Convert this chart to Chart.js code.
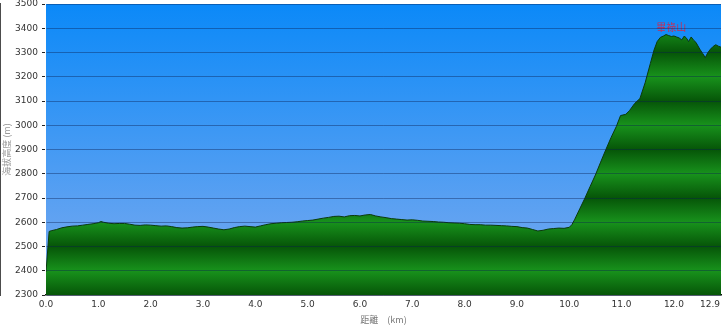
<!DOCTYPE html>
<html>
<head>
<meta charset="utf-8">
<script src="https://cdn.jsdelivr.net/npm/chart.js@4"></script>
<style>
html,body{margin:0;padding:0;background:#fff;}
#wrap{width:728px;height:329px;position:relative;}
</style>
</head>
<body>
<div id="wrap"><canvas id="c"></canvas></div>
<script>
/* DATA */
const distKm=[0,0.06,0.1,0.2,0.3,0.4,0.5,0.6,0.7,0.8,0.9,1.0,1.05,1.1,1.2,1.3,1.4,1.5,1.6,1.7,1.8,1.9,
2.0,2.1,2.2,2.3,2.4,2.5,2.6,2.7,2.8,2.9,3.0,3.1,3.2,3.3,3.4,3.5,3.6,3.7,3.8,3.9,
4.0,4.1,4.2,4.3,4.4,4.5,4.6,4.7,4.8,4.9,5.0,5.1,5.2,5.3,5.4,5.5,5.6,5.7,5.8,5.9,
6.0,6.1,6.2,6.3,6.4,6.5,6.6,6.7,6.8,6.9,7.0,7.1,7.2,7.3,7.4,7.5,7.6,7.7,7.8,7.9,
8.0,8.1,8.2,8.3,8.4,8.5,8.6,8.7,8.8,8.9,9.0,9.1,9.2,9.3,9.4,9.5,9.6,9.7,9.8,9.9,
10.0,10.05,10.1,10.2,10.3,10.4,10.5,10.6,10.7,10.8,10.9,10.98,11.08,11.15,11.25,11.35,11.45,11.55,11.62,11.68,11.74,11.8,11.85,11.9,11.95,
12.0,12.05,12.1,12.15,12.2,12.25,12.28,12.33,12.38,12.42,12.5,12.55,12.6,12.65,12.7,12.75,12.8,12.85,12.9];
const elevM=[2395,2562,2565,2570,2577,2581,2584,2585,2588,2591,2594,2598,2603,2600,2596,2594,2595,2595,2592,2588,2587,2589,
2588,2586,2584,2585,2582,2578,2576,2577,2580,2582,2583,2580,2576,2572,2569,2572,2578,2582,2584,2582,
2580,2585,2590,2594,2596,2598,2599,2600,2602,2605,2607,2609,2613,2617,2620,2624,2625,2622,2627,2628,
2626,2630,2632,2626,2622,2619,2615,2613,2611,2609,2610,2608,2605,2604,2603,2601,2600,2598,2597,2596,
2594,2591,2590,2590,2588,2588,2587,2586,2585,2583,2582,2578,2576,2570,2564,2567,2572,2574,2576,2575,
2579,2590,2610,2655,2700,2748,2795,2848,2900,2950,2995,3040,3045,3060,3090,3110,3175,3255,3310,3345,3362,3368,3374,3370,3366,
3368,3364,3360,3352,3368,3356,3345,3364,3350,3342,3312,3296,3279,3300,3314,3325,3332,3326,3322];
const xTicks=[0,1,2,3,4,5,6,7,8,9,10,11,12,12.9];
const yMin=2300, yMax=3500, yStep=100;
const peakName="畢祿山", peakKm=11.95, peakM=3405;
const xTitle="距離　(km)", yTitle="海拔高度 (m)";

/* PLOT BACKGROUND */
const skyPlugin={
id:"sky",
beforeDraw(chart){
const {ctx,chartArea:a}=chart;
const g=ctx.createLinearGradient(0,a.top,0,a.bottom);
g.addColorStop(0,"#0b89f8");
g.addColorStop(1,"#7eabef");
ctx.save();
ctx.fillStyle=g;
ctx.fillRect(a.left,a.top,a.right-a.left,a.bottom-a.top);
ctx.restore();
}
};

/* PEAK LABEL */
const peakPlugin={
id:"peak",
afterDatasetsDraw(chart){
const {ctx,scales}=chart;
ctx.save();
ctx.font="10px 'Noto Sans CJK TC'";
ctx.fillStyle="#c0305a";
ctx.textAlign="center";
ctx.textBaseline="middle";
ctx.fillText(peakName,scales.x.getPixelForValue(peakKm),scales.y.getPixelForValue(peakM));
ctx.restore();
}
};

/* GROUND FILL, banded every 100 m */
function groundFill(c){
const chart=c.chart;
if(!chart.chartArea) return "#1a8f1a";
const y=chart.scales.y;
const g=chart.ctx.createLinearGradient(0,y.getPixelForValue(yMax),0,y.getPixelForValue(yMin));
for(let v=yMin;v<=yMax;v+=yStep){
g.addColorStop((yMax-v)/(yMax-yMin),(v/yStep)%2?"#065508":"#18921c");
}
return g;
}

const pts=distKm.map((d,i)=>({x:d,y:elevM[i]}));

new Chart(document.getElementById("c"),{
type:"line",
data:{datasets:[{
data:pts,
borderColor:"#0b3a0b",
borderWidth:1,
backgroundColor:groundFill,
fill:"start",
pointRadius:0,
tension:0
}]},
options:{
responsive:true,
maintainAspectRatio:false,
animation:false,
layout:{padding:{top:4,right:7,left:0,bottom:0}},
plugins:{legend:{display:false},tooltip:{enabled:false}},
scales:{
x:{
type:"linear",
min:0,max:12.9,
afterBuildTicks(s){s.ticks=xTicks.map(v=>({value:v}));},
afterFit(s){
s.height=34;s.paddingLeft=0;s.paddingRight=0;
if(!s._endWrap){
const orig=s.getLabelItems;
s.getLabelItems=function(ca){
const items=orig.call(this,ca);
const last=items[items.length-1];
if(last){last.options.textAlign="right";last.options.translation[0]=this.right-1;}
return items;
};
s._endWrap=true;
}
},
grid:{display:false,drawTicks:false},
border:{display:true,color:"#111",width:1.5},
ticks:{padding:4,color:"#333",font:{family:"DejaVu Sans",size:9},maxRotation:0,autoSkip:false,
callback:v=>Number(v).toFixed(1)},
title:{display:true,text:xTitle,color:"#777",font:{family:"Noto Sans CJK TC",size:9},padding:{top:0,bottom:4}}
},
y:{
min:yMin,max:yMax,
afterFit(s){s.width=46;s.paddingTop=0;s.paddingBottom=0;},
grid:{color:"rgba(10,30,80,0.4)",lineWidth:1,z:1,tickLength:4,tickColor:"#222"},
border:{display:true,color:"#111",width:1.5},
ticks:{stepSize:yStep,padding:4,color:"#333",font:{family:"DejaVu Sans",size:9},callback:v=>String(v)},
title:{display:true,text:yTitle,color:"#999",font:{family:"Noto Sans CJK TC",size:9},padding:{top:1,bottom:0}}
}
}
},
plugins:[skyPlugin,peakPlugin]
});
</script>
</body>
</html>
